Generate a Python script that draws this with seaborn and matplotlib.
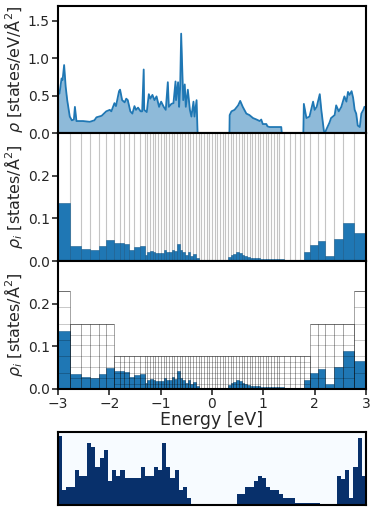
import numpy as np
import matplotlib
matplotlib.use("Agg")
import matplotlib.pyplot as plt
import seaborn as sns

sns.set_style("ticks")
plt.rcParams["font.family"] = ["DejaVu Sans"]

# density of states (top panel)
energy = [-3.0, -2.97, -2.93, -2.91, -2.88, -2.85, -2.82, -2.77, -2.73, -2.69,
          -2.67, -2.64, -2.51, -2.38, -2.29, -2.25, -2.15, -2.06, -1.99, -1.96,
          -1.90, -1.87, -1.81, -1.79, -1.75, -1.70, -1.67, -1.64, -1.59, -1.55,
          -1.51, -1.48, -1.44, -1.39, -1.36, -1.33, -1.32, -1.27, -1.23, -1.20,
          -1.16, -1.12, -1.08, -1.03, -0.99, -0.94, -0.90, -0.86, -0.84, -0.79,
          -0.75, -0.71, -0.70, -0.66, -0.64, -0.62, -0.60, -0.56, -0.53, -0.51,
          -0.47, -0.43, -0.40, -0.36, -0.34, -0.30, -0.285, -0.28, 0.34, 0.345,
          0.38, 0.44, 0.51, 0.55, 0.60, 0.67, 0.73, 0.80, 0.87, 0.93,
          0.96, 0.99, 1.06, 1.08, 1.12, 1.35, 1.36, 1.78, 1.79, 1.84,
          1.90, 1.97, 2.00, 2.04, 2.10, 2.13, 2.18, 2.20, 2.23, 2.29,
          2.32, 2.39, 2.42, 2.47, 2.52, 2.55, 2.58, 2.62, 2.65, 2.68,
          2.72, 2.75, 2.78, 2.81, 2.84, 2.88, 2.91, 2.95, 2.97, 3.0]
dos = [0.51, 0.53, 0.73, 0.71, 0.91, 0.62, 0.44, 0.22, 0.17, 0.18,
       0.35, 0.16, 0.16, 0.15, 0.17, 0.21, 0.23, 0.29, 0.31, 0.29,
       0.40, 0.36, 0.56, 0.58, 0.44, 0.41, 0.46, 0.44, 0.29, 0.26,
       0.36, 0.31, 0.34, 0.29, 0.29, 0.85, 0.31, 0.28, 0.52, 0.46,
       0.51, 0.44, 0.49, 0.35, 0.42, 0.35, 0.31, 0.68, 0.35, 0.39,
       0.40, 0.69, 0.44, 0.68, 0.35, 0.60, 1.33, 0.44, 0.65, 0.35,
       0.58, 0.31, 0.22, 0.42, 0.22, 0.44, 0.10, 0.0, 0.0, 0.24,
       0.29, 0.31, 0.37, 0.43, 0.35, 0.26, 0.24, 0.20, 0.18, 0.16,
       0.18, 0.12, 0.12, 0.09, 0.08, 0.08, 0.0, 0.0, 0.39, 0.20,
       0.22, 0.42, 0.31, 0.35, 0.52, 0.31, 0.03, 0.0, 0.05, 0.14,
       0.20, 0.24, 0.37, 0.29, 0.35, 0.42, 0.49, 0.42, 0.55, 0.51,
       0.56, 0.47, 0.31, 0.26, 0.10, 0.08, 0.26, 0.31, 0.35, 0.35]

# energy bins and integrated density per bin
outer_edges = [-3.0, -2.76, -2.56, -2.37, -2.21, -2.06, -1.91, -1.80, -1.71,
               -1.62, -1.52, -1.41, -1.31]
bin_edges = (outer_edges + list(np.round(np.linspace(-1.31, 1.31, 51)[1:-1], 4))
             + [-e for e in outer_edges[::-1]])
rho_i = [0.136, 0.035, 0.029, 0.025, 0.035, 0.049, 0.043, 0.042, 0.040, 0.027,
         0.032, 0.035, 0.013, 0.021, 0.023, 0.022, 0.018, 0.018, 0.018, 0.025,
         0.020, 0.020, 0.027, 0.023, 0.041, 0.025, 0.021, 0.015, 0.022, 0.012,
         0.016, 0.006, 0, 0, 0, 0, 0, 0, 0, 0,
         0, 0, 0, 0.009, 0.013, 0.016, 0.020, 0.018, 0.013, 0.012,
         0.009, 0.008, 0.007, 0.006, 0.006, 0.005, 0.005, 0.005, 0.005, 0.005,
         0.005, 0.005, 0.005, 0, 0, 0, 0, 0.021, 0.037, 0.046,
         0.012, 0.052, 0.088, 0.065]

# coarse blocks of the third panel
block_edges = [-3.0, -2.76, -1.91, 1.91, 2.76, 3.0]
block_top = [0.23, 0.153, 0.0767, 0.153, 0.23]
grid_rows = 6

# bottom image: filled fraction of every column
col_height = [0.96, 0.21, 0.26, 0.26, 0.47, 0.41, 0.41, 0.86, 0.81, 0.53,
              0.64, 0.75, 0.32, 0.47, 0.41, 0.47, 0.37, 0.37, 0.37, 0.37,
              0.53, 0.41, 0.41, 0.53, 0.47, 0.86, 0.53, 0.37, 0.47, 0.21,
              0.26, 0.09, 0, 0, 0, 0, 0, 0, 0, 0,
              0, 0, 0, 0.14, 0.14, 0.26, 0.26, 0.32, 0.41, 0.37,
              0.26, 0.20, 0.20, 0.14, 0.09, 0.09, 0.09, 0.03, 0.03, 0.03,
              0.03, 0.03, 0.03, 0, 0, 0, 0, 0.41, 0.36, 0.47,
              0.09, 0.53, 0.92, 0.41]
img_rows = 40

blue = "#1f77b4"
centers = [(a + b) / 2 for a, b in zip(bin_edges[:-1], bin_edges[1:])]

fig = plt.figure(figsize=(3.74, 5.21), dpi=100)
ax1 = fig.add_axes([0.155, 0.7447, 0.8235, 0.2438])
ax2 = fig.add_axes([0.155, 0.499, 0.8235, 0.2457])
ax3 = fig.add_axes([0.155, 0.2534, 0.8235, 0.2457])
ax4 = fig.add_axes([0.155, 0.0307, 0.8235, 0.140])

# top: DOS
sns.lineplot(x=energy, y=dos, ax=ax1, color=blue, lw=1.3)
ax1.fill_between(energy, dos, color=blue, alpha=0.5, lw=0)
ax1.set_ylim(0, 1.7)
ax1.set_yticks([0, 0.5, 1.0, 1.5])
ax1.set_ylabel(r"$\rho$ [states/eV/Å$^2$]", fontsize=11.5, labelpad=2)

# middle panels: per-bin histogram
for ax in (ax2, ax3):
    sns.histplot(x=centers, weights=rho_i, bins=bin_edges, ax=ax, color=blue,
                 alpha=1, edgecolor="#1a5d8c", linewidth=0.4, zorder=2)
    ax.set_ylim(0, 0.3)
    ax.set_yticks([0, 0.1, 0.2])
    ax.set_ylabel(r"$\rho_i$ [states/Å$^2$]", fontsize=11.5, labelpad=2)

for e in bin_edges:
    ax2.axvline(e, color="#c4c4c4", lw=0.8, zorder=0)

for b in range(len(block_top)):
    x0, x1, top = block_edges[b], block_edges[b + 1], block_top[b]
    for k in range(1, grid_rows + 1):
        ax3.hlines(top * k / grid_rows, x0, x1, color="k", lw=0.5,
                   alpha=0.3 if k < grid_rows else 0.8, zorder=3)
    inner = [e for e in bin_edges if x0 <= e <= x1]
    ax3.vlines(inner, 0, top, color="k", lw=0.5, alpha=0.5, zorder=3)

for ax in (ax1, ax2, ax3):
    ax.set_xlim(-3, 3)
    ax.tick_params(labelsize=10, width=1.2, length=4, pad=2)
    for s in ax.spines.values():
        s.set_linewidth(1.5)
        s.set_color("k")
for ax in (ax1, ax2):
    ax.tick_params(axis="x", bottom=False, labelbottom=False)
ax3.set_xticks([-3, -2, -1, 0, 1, 2, 3])
ax3.set_xlabel("Energy [eV]", fontsize=12.5, labelpad=0)
for ax in (ax1, ax2, ax3):
    ax.yaxis.set_major_formatter(matplotlib.ticker.FormatStrFormatter("%.1f"))

# bottom: column image
img = np.zeros((img_rows, len(col_height)))
for j, h in enumerate(col_height):
    n = int(round(h * img_rows))
    if n:
        img[img_rows - n:, j] = 1
sns.heatmap(img, cmap="Blues", vmin=0, vmax=1, cbar=False,
            xticklabels=False, yticklabels=False, ax=ax4)
for s in ax4.spines.values():
    s.set_visible(True)
    s.set_linewidth(1.5)
    s.set_color("k")

fig.savefig("out.png", dpi=100)
